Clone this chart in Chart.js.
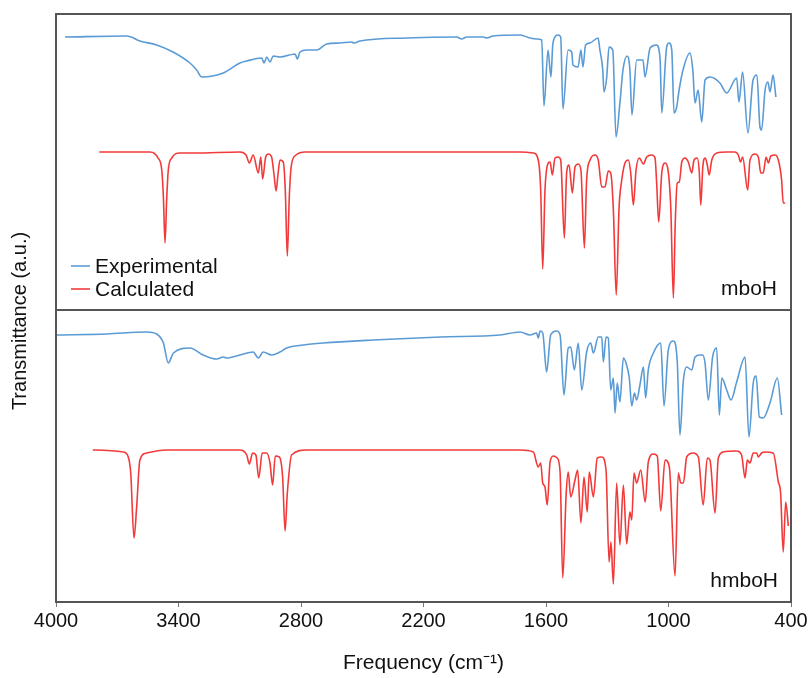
<!DOCTYPE html>
<html>
<head>
<meta charset="utf-8">
<script src="https://cdn.jsdelivr.net/npm/chart.js@4.4.0/dist/chart.umd.min.js"></script>
<style>
html,body{margin:0;padding:0;background:#fff;}
#wrap{width:810px;height:678px;position:relative;}
</style>
</head>
<body>
<div id="wrap"><canvas id="c" width="810" height="678"></canvas></div>
<script>
// ---- data (transmittance in arbitrary units) ----
const xTicks = [4000, 3400, 2800, 2200, 1600, 1000, 400];
const panelNames = ['mboH', 'hmboH'];
const seriesNames = ['Experimental', 'Calculated'];

// mboH experimental
const expTopFreq = [3956,3652,3589,3507,3427,3344,3311,3286,3181,3099,3066,2992,2981,2968,2952,2936,2903,2829,2818,2805,2772,2723,2674,2609,2552,2540,2511,2282,2037,2013,1988,1907,1890,1860,1727,1678,1646,1621,1610,1590,1576,1566,1541,1528,1517,1492,1474,1468,1443,1429,1419,1406,1385,1345,1336,1322,1316,1303,1291,1273,1257,1238,1223,1203,1189,1179,1156,1125,1115,1090,1058,1041,1033,1009,997,984,973,960,948,929,895,881,870,855,837,821,797,748,715,666,655,637,611,586,567,552,544,527,513,503,488,474];
const expTopT = [273,274,269,265,258,247,240,233,237,247,249,252,247,253,248,254,253,256,251,258,260,260,266,267,268,267,269,272,273,271,273,273,272,274,275,272,271,270,204,260,233,267,275,273,201,260,258,245,243,260,243,265,267,272,260,240,218,232,263,260,173,207,240,254,240,195,250,250,233,262,265,250,197,263,267,260,197,203,220,240,257,240,207,220,188,230,233,227,217,232,208,238,177,230,235,183,180,220,228,218,235,213];

// mboH calculated
const calcTopFreq = [3788,3540,3500,3482,3474,3466,3458,3450,3433,3393,3319,3099,3069,3053,3034,3009,2997,2988,2973,2960,2944,2932,2922,2913,2903,2887,2877,2867,2857,2847,2824,2780,1727,1662,1638,1626,1616,1605,1589,1580,1569,1556,1540,1528,1510,1499,1487,1471,1458,1442,1429,1412,1401,1384,1360,1344,1327,1311,1295,1283,1270,1256,1242,1229,1213,1197,1185,1172,1159,1143,1123,1107,1082,1066,1058,1048,1033,1017,1004,989,976,967,957,947,935,919,903,886,875,859,849,842,832,820,810,801,788,764,715,674,658,647,637,612,601,576,560,548,536,522,511,499,478,462,446,438,429];
const calcTopT = [158,158,152,140,113,67,110,140,152,157,157,158,155,147,155,137,153,131,153,156,153,135,119,135,150,148,120,54,115,145,155,158,158,157,150,120,41,120,147,148,135,152,153,150,72,137,145,117,143,146,140,62,130,150,155,150,123,123,139,137,100,15,103,130,147,150,137,105,140,152,146,153,155,152,127,88,137,147,142,103,12,87,127,128,148,152,148,137,150,152,137,105,143,152,145,135,150,157,158,158,155,148,153,120,150,156,153,137,137,153,147,154,155,150,130,107,107];

// hmboH experimental
const expBotFreq = [3997,3752,3556,3507,3474,3450,3425,3344,3279,3213,3181,3164,3099,3034,3009,2985,2944,2903,2870,2789,2691,2446,2119,1825,1727,1678,1646,1638,1629,1616,1597,1577,1548,1531,1512,1491,1479,1461,1442,1425,1401,1381,1368,1344,1327,1319,1306,1295,1283,1270,1262,1251,1238,1221,1208,1192,1180,1167,1156,1140,1123,1112,1099,1074,1038,1022,1001,976,957,944,927,911,886,870,846,833,821,805,784,764,751,739,715,694,666,625,606,585,571,555,536,503,467,446];
const expBotT = [267,268,270,268,259,239,249,254,247,243,245,244,247,250,244,250,247,250,254,257,259,262,265,267,270,267,269,264,271,269,230,267,271,267,207,254,255,232,259,212,250,259,249,265,265,240,265,264,212,224,189,219,200,244,239,224,196,209,202,217,235,204,232,249,259,196,252,261,240,167,222,235,232,245,247,247,239,202,245,254,187,224,212,202,220,245,165,219,226,185,184,199,224,187];

// hmboH calculated
const calcBotFreq = [3820,3670,3646,3634,3618,3605,3589,3556,3458,3099,3066,3053,3037,3021,3007,2990,2968,2952,2939,2926,2906,2890,2878,2867,2846,2772,1727,1662,1638,1626,1616,1605,1594,1580,1564,1545,1531,1518,1501,1491,1479,1458,1445,1429,1414,1398,1388,1368,1349,1327,1306,1291,1282,1270,1254,1238,1221,1205,1189,1180,1169,1156,1136,1114,1099,1074,1055,1038,1017,996,968,952,940,927,911,879,854,830,810,797,772,756,732,666,642,625,614,601,585,568,560,544,527,487,462,451,438,426,413];
const calcBotT = [152,150,145,129,64,95,142,149,152,152,147,138,149,147,124,149,149,139,117,146,145,125,71,109,147,152,152,150,135,139,119,115,97,140,146,144,130,24,109,130,105,122,132,79,125,90,130,105,144,145,132,40,60,18,119,57,117,58,90,82,129,119,132,100,140,148,146,91,142,135,26,129,119,119,145,149,145,97,144,142,89,144,150,151,147,124,142,139,149,149,145,149,150,149,120,109,50,100,76];

// ---- build ----
const BLUE = '#5b9bd5';
const RED = '#f23a3a';
const FONT = "'Liberation Sans', Arial, sans-serif";

function pts(fx, ty) {
  const n = Math.min(fx.length, ty.length);
  const out = [];
  for (let i = 0; i < n; i++) out.push({x: fx[i], y: ty[i]});
  return out;
}
function ds(label, fx, ty, color, axis) {
  return {
    label: label, data: pts(fx, ty), yAxisID: axis,
    borderColor: color, backgroundColor: color, borderWidth: 1.6,
    pointRadius: 0, fill: false, cubicInterpolationMode: 'monotone'
  };
}

const framePlugin = {
  id: 'frame',
  afterLayout(chart) {
    // centre the shared y-axis title where the reference has it
    const s = chart.scales.yT;
    s.top = s.top + 26;
  },
  afterDatasetsDraw(chart) {
    const {ctx, chartArea: a} = chart;
    const mid = chart.scales.yTop.bottom;
    ctx.save();
    ctx.strokeStyle = '#555';
    ctx.lineWidth = 2;
    ctx.strokeRect(a.left, a.top, a.right - a.left, a.bottom - a.top);
    ctx.beginPath();
    ctx.moveTo(a.left, mid);
    ctx.lineTo(a.right, mid);
    ctx.stroke();

    // legend inside the top panel
    ctx.font = '21px ' + FONT;
    ctx.textBaseline = 'alphabetic';
    ctx.textAlign = 'left';
    const legendItems = [[seriesNames[0], BLUE, 266], [seriesNames[1], RED, 289]];
    for (const [txt, col, y] of legendItems) {
      ctx.strokeStyle = col;
      ctx.lineWidth = 1.6;
      ctx.beginPath();
      ctx.moveTo(a.left + 15, y);
      ctx.lineTo(a.left + 34, y);
      ctx.stroke();
      ctx.fillStyle = '#111';
      ctx.fillText(txt, a.left + 39, y + 7);
    }
    // panel names
    ctx.textAlign = 'right';
    ctx.fillText(panelNames[0], a.right - 14, mid - 15);
    ctx.fillText(panelNames[1], a.right - 13, a.bottom - 15);
    ctx.restore();
  }
};

new Chart(document.getElementById('c'), {
  type: 'line',
  data: {
    datasets: [
      ds(seriesNames[0] + ' (' + panelNames[0] + ')', expTopFreq, expTopT, BLUE, 'yTop'),
      ds(seriesNames[1] + ' (' + panelNames[0] + ')', calcTopFreq, calcTopT, RED, 'yTop'),
      ds(seriesNames[0] + ' (' + panelNames[1] + ')', expBotFreq, expBotT, BLUE, 'yBot'),
      ds(seriesNames[1] + ' (' + panelNames[1] + ')', calcBotFreq, calcBotT, RED, 'yBot')
    ]
  },
  options: {
    responsive: false,
    animation: false,
    layout: {padding: {top: 14, right: 19, bottom: 0, left: 0}},
    plugins: {legend: {display: false}, tooltip: {enabled: false}},
    scales: {
      x: {
        type: 'linear', reverse: true, min: 400, max: 4000,
        afterBuildTicks: s => { s.ticks = xTicks.map(v => ({value: v})); },
        ticks: {color: '#111', font: {family: FONT, size: 20}, padding: 2, maxRotation: 0, autoSkip: false,
                callback: v => String(v)},
        grid: {display: true, drawOnChartArea: false, drawTicks: true, tickLength: 5, color: '#777'},
        border: {display: false},
        title: {display: true, text: 'Frequency (cm\u207B\u00B9)', color: '#111',
                font: {family: FONT, size: 21}, padding: {top: 0, bottom: 2}},
        afterFit: s => { s.height = 76; }
      },
      yT: {
        type: 'linear', position: 'left', min: 0, max: 1,
        ticks: {display: false}, grid: {display: false}, border: {display: false},
        title: {display: true, text: 'Transmittance (a.u.)', color: '#111',
                font: {family: FONT, size: 20}, padding: {top: 8, bottom: 0}},
        afterFit: s => { s.width = 56; }
      },
      yBot: {
        type: 'linear', position: 'left', stack: 'panels', stackWeight: 292,
        min: 0, max: 292,
        ticks: {display: false}, grid: {display: false}, border: {display: false},
        afterFit: s => { s.width = 0; }
      },
      yTop: {
        type: 'linear', position: 'left', stack: 'panels', stackWeight: 296,
        min: 0, max: 296,
        ticks: {display: false}, grid: {display: false}, border: {display: false},
        afterFit: s => { s.width = 0; }
      }
    }
  },
  plugins: [framePlugin]
});
</script>
</body>
</html>
